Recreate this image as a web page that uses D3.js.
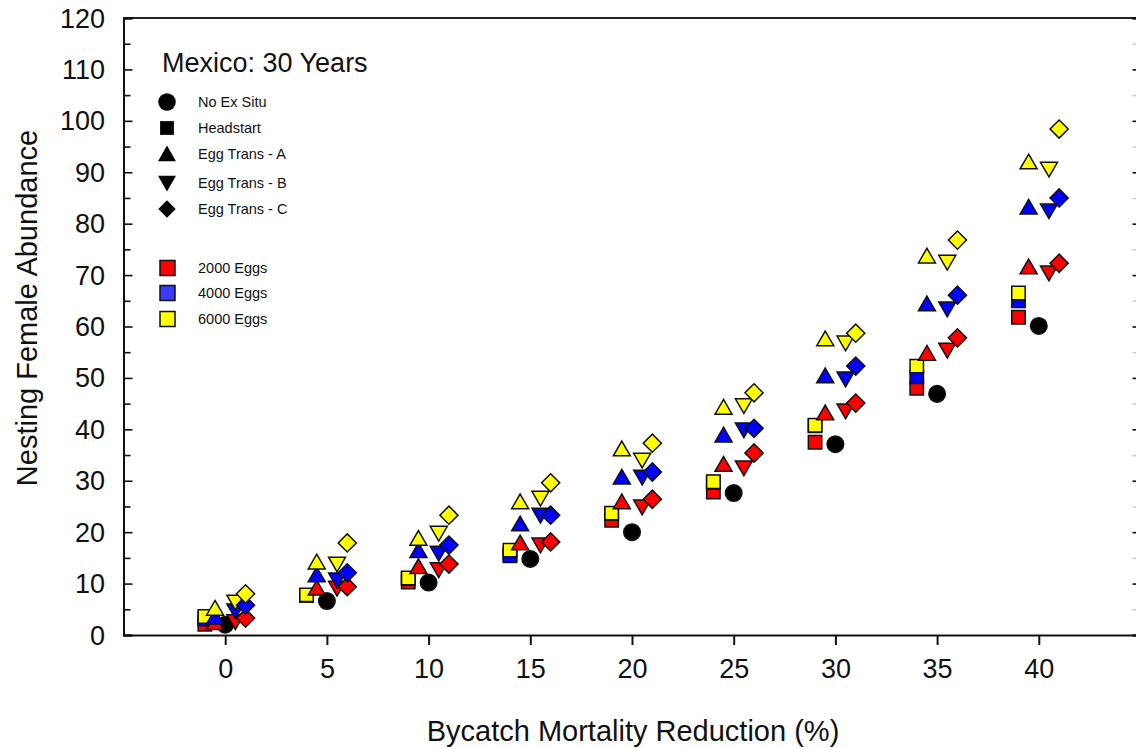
<!DOCTYPE html>
<html>
<head>
<meta charset="utf-8">
<script src="https://cdn.jsdelivr.net/npm/d3@7"></script>
<style>
  body { margin: 0; background: #ffffff; }
  text { font-family: Arial, "Liberation Sans", sans-serif; fill: #111; }
</style>
</head>
<body>
<script>
// x categories (bycatch mortality reduction %)
var reductions = [0, 5, 10, 15, 20, 25, 30, 35, 40];
var yTicks = [0, 10, 20, 30, 40, 50, 60, 70, 80, 90, 100, 110, 120];

// No ex situ
var noExSitu = [2.0, 6.6, 10.2, 14.8, 20.0, 27.6, 37.1, 46.9, 60.1];

// Headstart
var head2000 = [2.1, 7.7, 10.3, 15.8, 22.3, 27.8, 37.5, 48.0, 61.8];
var head4000 = [3.1, 7.7, 11.0, 15.4, 23.6, 29.7, 40.7, 50.2, 65.0];
var head6000 = [3.6, 7.8, 11.1, 16.5, 23.7, 29.8, 40.8, 52.3, 66.5];

// Egg Trans - A
var eggA2000 = [2.4, 9.1, 13.3, 17.9, 25.9, 33.2, 43.2, 54.8, 71.6];
var eggA4000 = [3.5, 11.7, 16.4, 21.6, 30.7, 38.9, 50.4, 64.4, 83.2];
var eggA6000 = [5.2, 14.2, 18.8, 25.9, 36.2, 44.3, 57.6, 73.7, 92.0];

// Egg Trans - B
var eggB2000 = [2.6, 9.1, 12.7, 17.5, 24.9, 32.5, 43.6, 55.4, 70.4];
var eggB4000 = [4.7, 10.7, 15.9, 23.3, 30.7, 39.9, 49.8, 63.4, 82.5];
var eggB6000 = [6.4, 13.8, 19.8, 26.6, 34.0, 44.6, 56.8, 72.5, 90.6];

// Egg Trans - C
var eggC2000 = [3.3, 9.4, 13.8, 18.1, 26.4, 35.4, 45.1, 57.8, 72.3];
var eggC4000 = [5.8, 12.1, 17.5, 23.3, 31.7, 40.2, 52.3, 66.1, 85.0];
var eggC6000 = [8.0, 17.9, 23.3, 29.6, 37.3, 47.1, 58.7, 76.8, 98.4];

var eggColors = {"2000": "#ff0000", "4000": "#0000ff", "6000": "#ffff00"};

function main() {
  var w = 1136, h = 748;
  var svg = d3.select("body").append("svg")
    .attr("width", w).attr("height", h);

  // the right edge of the frame falls just outside the picture
  var x = d3.scaleLinear().domain([-5, 45]).range([123.5, 1140.5]);
  var y = d3.scaleLinear().domain([0, 120]).range([635, 18]);

  // top frame line
  svg.append("line").attr("x1", x(-5)).attr("x2", x(45))
    .attr("y1", y(120)).attr("y2", y(120))
    .attr("stroke", "#222").attr("stroke-width", 2);

  // left axis with inward ticks
  var minor = d3.range(5, 120, 10);
  var left = svg.append("g").attr("transform", "translate(" + x(-5) + ",0)");
  left.call(d3.axisRight(y).tickValues(yTicks).tickSize(9).tickFormat(""));
  left.append("g").call(d3.axisRight(y).tickValues(minor).tickSize(7).tickFormat(""));
  left.selectAll("path, line").attr("stroke", "#111").attr("stroke-width", 1.6);
  left.select(".domain").attr("stroke-width", 2);

  // y tick labels
  svg.append("g").selectAll("text").data(yTicks).enter().append("text")
    .attr("x", 105).attr("y", function(d) { return y(d) + 9.5; })
    .attr("text-anchor", "end").attr("font-size", 27)
    .text(function(d) { return d; });

  // right axis ticks
  var right = svg.append("g").attr("transform", "translate(" + x(45) + ",0)");
  right.call(d3.axisLeft(y).tickValues(yTicks).tickSize(8).tickFormat(""));
  right.append("g").call(d3.axisLeft(y).tickValues(minor).tickSize(8).tickFormat(""))
    .selectAll("line").attr("opacity", 0.2);
  right.selectAll("line").attr("stroke", "#111").attr("stroke-width", 1.6);
  right.select(".domain").attr("stroke-width", 2);

  // bottom axis
  var bottom = svg.append("g").attr("transform", "translate(0," + y(0) + ")");
  bottom.call(d3.axisBottom(x).tickValues(reductions).tickSize(10).tickSizeOuter(0).tickPadding(14));
  bottom.selectAll("path, line").attr("stroke", "#111").attr("stroke-width", 2);
  bottom.selectAll("text").attr("font-size", 27).attr("fill", "#111")
    .attr("font-family", "Arial, 'Liberation Sans', sans-serif");

  // axis titles
  svg.append("text").attr("x", 633).attr("y", 741).attr("text-anchor", "middle")
    .attr("font-size", 29).text("Bycatch Mortality Reduction (%)");
  svg.append("text").attr("transform", "translate(37,308) rotate(-90)")
    .attr("text-anchor", "middle").attr("font-size", 29).text("Nesting Female Abundance");

  // markers
  var shapes = {
    circle: {type: d3.symbolCircle, size: 215, rot: 0},
    square: {type: d3.symbolSquare, size: 180, rot: 0},
    up: {type: d3.symbolTriangle, size: 125, rot: 0},
    down: {type: d3.symbolTriangle, size: 125, rot: 180},
    diamond: {type: d3.symbolSquare, size: 165, rot: 45}
  };

  var series = [
    {vals: noExSitu, shape: "circle", off: 0, fill: "#000"},
    {vals: head2000, shape: "square", off: -1, fill: eggColors["2000"]},
    {vals: head4000, shape: "square", off: -1, fill: eggColors["4000"]},
    {vals: head6000, shape: "square", off: -1, fill: eggColors["6000"]},
    {vals: eggA2000, shape: "up", off: -0.5, fill: eggColors["2000"]},
    {vals: eggA4000, shape: "up", off: -0.5, fill: eggColors["4000"]},
    {vals: eggA6000, shape: "up", off: -0.5, fill: eggColors["6000"]},
    {vals: eggB2000, shape: "down", off: 0.5, fill: eggColors["2000"]},
    {vals: eggB4000, shape: "down", off: 0.5, fill: eggColors["4000"]},
    {vals: eggB6000, shape: "down", off: 0.5, fill: eggColors["6000"]},
    {vals: eggC2000, shape: "diamond", off: 1, fill: eggColors["2000"]},
    {vals: eggC4000, shape: "diamond", off: 1, fill: eggColors["4000"]},
    {vals: eggC6000, shape: "diamond", off: 1, fill: eggColors["6000"]}
  ];

  series.forEach(function(s) {
    var sh = shapes[s.shape];
    var sym = d3.symbol().type(sh.type).size(sh.size);
    svg.append("g").selectAll("path").data(s.vals).enter().append("path")
      .attr("d", sym)
      .attr("transform", function(d, i) {
        var ty = y(d);
        // triangles are centred on their centroid, nudge to box centre
        if (s.shape == "up") ty += 2;
        if (s.shape == "down") ty -= 2;
        return "translate(" + x(reductions[i] + s.off) + "," + ty + ") rotate(" + sh.rot + ")";
      })
      .attr("fill", s.fill)
      .attr("stroke", "#111")
      .attr("stroke-width", 1.5);
  });

  // legend
  svg.append("text").attr("x", 162).attr("y", 72).attr("font-size", 27).text("Mexico: 30 Years");

  var legendShapes = [
    {label: "No Ex Situ", shape: "circle", y: 102},
    {label: "Headstart", shape: "square", y: 128},
    {label: "Egg Trans - A", shape: "up", y: 154},
    {label: "Egg Trans - B", shape: "down", y: 183},
    {label: "Egg Trans - C", shape: "diamond", y: 209}
  ];
  var leg = svg.append("g");
  legendShapes.forEach(function(d) {
    var sh = shapes[d.shape];
    var sz = d.shape == "circle" ? 240 : (d.shape == "square" ? 190 : (d.shape == "diamond" ? 150 : 140));
    var ty = d.y + (d.shape == "up" ? 2 : (d.shape == "down" ? -2 : 0));
    leg.append("path").attr("d", d3.symbol().type(sh.type).size(sz))
      .attr("transform", "translate(167," + ty + ") rotate(" + sh.rot + ")")
      .attr("fill", "#000");
    leg.append("text").attr("x", 198).attr("y", d.y + 5).attr("font-size", 14.5).text(d.label);
  });

  var legendEggs = [
    {label: "2000 Eggs", key: "2000", y: 268},
    {label: "4000 Eggs", key: "4000", y: 293},
    {label: "6000 Eggs", key: "6000", y: 319}
  ];
  legendEggs.forEach(function(d) {
    leg.append("rect").attr("x", 160).attr("y", d.y - 7.5).attr("width", 15).attr("height", 15)
      .attr("fill", d.key == "4000" ? "#3b3bff" : eggColors[d.key])
      .attr("stroke", "#111").attr("stroke-width", 1.5);
    leg.append("text").attr("x", 198).attr("y", d.y + 5).attr("font-size", 14.5).text(d.label);
  });
}

window.onload = function() {
  main();
};
</script>
</body>
</html>
